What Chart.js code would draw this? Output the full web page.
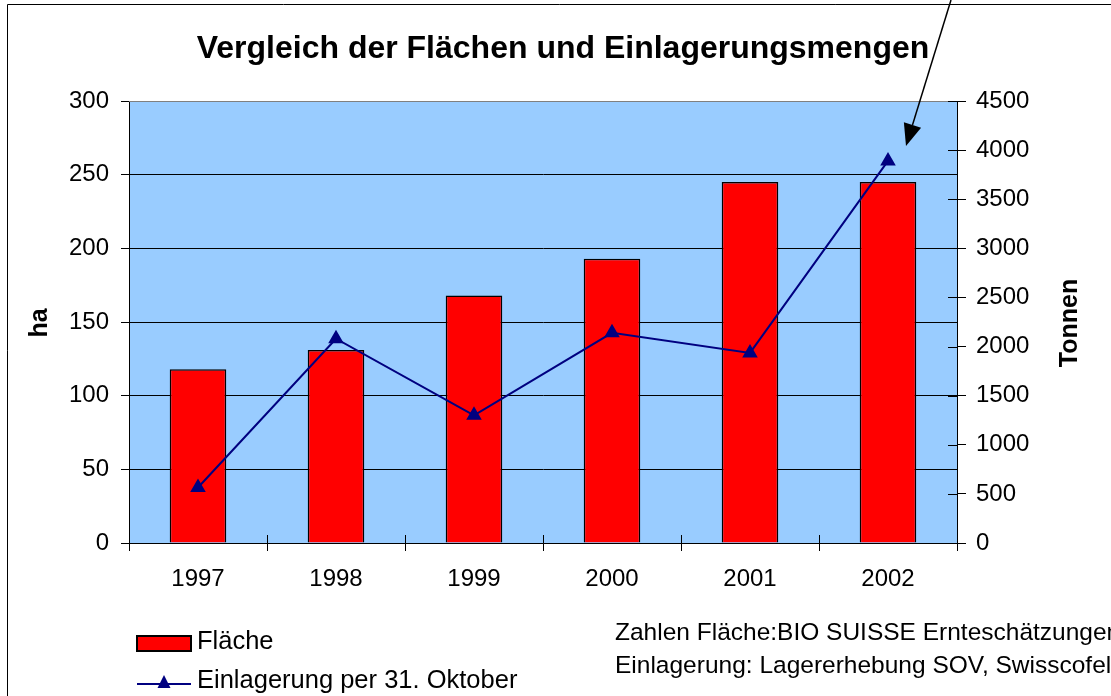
<!DOCTYPE html>
<html><head><meta charset="utf-8">
<script src="https://cdn.jsdelivr.net/npm/chart.js@4.4.1/dist/chart.umd.min.js"></script>
<style>html,body{margin:0;padding:0;background:#fff}#wrap{width:1111px;height:696px;position:relative}</style>
</head><body><div id="wrap"><canvas id="c" width="1111" height="696"></canvas></div>
<script>
const categories = ['1997','1998','1999','2000','2001','2002'];
const flaeche = [118, 131, 168, 193, 245, 245];
const einlagerung = [565, 2080, 1300, 2140, 1935, 3890];
const leftTicks = [0, 50, 100, 150, 200, 250, 300];
const rightTicks = [0, 500, 1000, 1500, 2000, 2500, 3000, 3500, 4000, 4500];
const titleText = 'Vergleich der Flächen und Einlagerungsmengen';
const leftTitle = 'ha';
const rightTitle = 'Tonnen';
const seriesNames = ['Fläche', 'Einlagerung per 31. Oktober'];
const notes = ['Zahlen Fläche:BIO SUISSE Ernteschätzungen', 'Einlagerung: Lagererhebung SOV, Swisscofel'];

const FONT = '"Liberation Sans", Arial, sans-serif';
const NAVY = '#000080';

const deco = {
  id: 'deco',
  beforeDraw(chart) {
    const {ctx, chartArea: a} = chart;
    ctx.save();
    ctx.fillStyle = '#fff';
    ctx.fillRect(0, 0, chart.width, chart.height);
    ctx.fillStyle = '#99CCFF';
    ctx.fillRect(a.left, a.top, a.right - a.left, a.bottom - a.top);
    ctx.restore();
  },
  afterDatasetsDraw(chart) {
    const {ctx, chartArea: a, scales} = chart;
    ctx.save();
    ctx.strokeStyle = '#808080';
    ctx.lineWidth = 1;
    ctx.beginPath(); ctx.moveTo(a.left, a.top + 0.5); ctx.lineTo(a.right, a.top + 0.5); ctx.stroke();
    ctx.strokeStyle = '#000';
    const yr = scales.y1;
    yr.ticks.forEach((t, i) => {
      const py = Math.round(yr.getPixelForTick(i)) + 0.5;
      ctx.beginPath(); ctx.moveTo(a.right - 9, py); ctx.lineTo(a.right, py); ctx.stroke();
    });
    const xs = scales.x;
    for (let i = 0; i <= categories.length; i++) {
      const px = Math.round(xs.getPixelForValue(i - 0.5)) + 0.5;
      ctx.beginPath(); ctx.moveTo(px, a.bottom - 8); ctx.lineTo(px, a.bottom); ctx.stroke();
    }
    ctx.restore();
  },
  afterDraw(chart) {
    const {ctx} = chart;
    ctx.save();
    ctx.strokeStyle = '#000';
    ctx.lineWidth = 1;
    ctx.beginPath(); ctx.moveTo(7.5, 700); ctx.lineTo(7.5, 4.5); ctx.lineTo(1120, 4.5); ctx.stroke();
    ctx.fillStyle = '#000';
    ctx.font = 'bold 32px ' + FONT;
    ctx.textAlign = 'center'; ctx.textBaseline = 'middle';
    ctx.fillText(titleText, 563, 49);
    ctx.font = 'bold 25px ' + FONT;
    ctx.save(); ctx.translate(40, 323); ctx.rotate(-Math.PI / 2); ctx.fillText(leftTitle, 0, 0); ctx.restore();
    ctx.save(); ctx.translate(1070, 323); ctx.rotate(-Math.PI / 2); ctx.fillText(rightTitle, 0, 0); ctx.restore();
    // legend
    ctx.textAlign = 'left';
    ctx.font = '25.5px ' + FONT;
    ctx.fillStyle = '#FF0000';
    ctx.fillRect(137, 636, 54, 15);
    ctx.strokeStyle = '#000'; ctx.lineWidth = 2;
    ctx.strokeRect(137, 636, 54, 15);
    ctx.fillStyle = '#000';
    ctx.fillText(seriesNames[0], 197, 642);
    ctx.strokeStyle = NAVY; ctx.lineWidth = 2;
    ctx.beginPath(); ctx.moveTo(137, 684); ctx.lineTo(191, 684); ctx.stroke();
    ctx.fillStyle = NAVY;
    ctx.beginPath(); ctx.moveTo(164, 675); ctx.lineTo(170.5, 688); ctx.lineTo(157.5, 688); ctx.closePath(); ctx.fill();
    ctx.fillStyle = '#000';
    ctx.fillText(seriesNames[1], 197, 681);
    // notes
    ctx.font = '24.5px ' + FONT;
    ctx.fillText(notes[0], 615, 633);
    ctx.fillText(notes[1], 615, 666);
    // arrow
    ctx.strokeStyle = '#000'; ctx.lineWidth = 1.5;
    const x0 = 951, y0 = 0, x1 = 906, y1 = 146;
    const ang = Math.atan2(y1 - y0, x1 - x0);
    const L = 22, W = 9;
    const bx = x1 - L * Math.cos(ang), by = y1 - L * Math.sin(ang);
    ctx.beginPath(); ctx.moveTo(x0, y0); ctx.lineTo(bx, by); ctx.stroke();
    ctx.fillStyle = '#000';
    ctx.beginPath();
    ctx.moveTo(x1, y1);
    ctx.lineTo(bx + W * Math.sin(ang), by - W * Math.cos(ang));
    ctx.lineTo(bx - W * Math.sin(ang), by + W * Math.cos(ang));
    ctx.closePath(); ctx.fill();
    ctx.restore();
  }
};

new Chart(document.getElementById('c'), {
  data: {
    labels: categories,
    datasets: [
      {
        type: 'line', label: seriesNames[1], data: einlagerung, yAxisID: 'y1',
        borderColor: NAVY, backgroundColor: NAVY, borderWidth: 2,
        pointStyle: 'triangle', pointRadius: 7, pointHoverRadius: 7, tension: 0, order: 1
      },
      {
        type: 'bar', label: seriesNames[0], data: flaeche, yAxisID: 'y',
        backgroundColor: '#FF0000', borderColor: '#000', borderWidth: 1.5,
        categoryPercentage: 1, barPercentage: 0.41, order: 2
      }
    ]
  },
  options: {
    responsive: false, animation: false, devicePixelRatio: 1,
    layout: { padding: { top: 101, left: 0, right: 0, bottom: 0 } },
    plugins: { legend: { display: false }, title: { display: false }, tooltip: { enabled: false } },
    scales: {
      x: {
        offset: true,
        grid: { offset: true, drawOnChartArea: false, drawTicks: true, tickLength: 8, color: '#000', tickColor: '#000' },
        border: { color: '#000', width: 1 },
        ticks: { color: '#000', font: { family: FONT, size: 24 }, padding: 14, maxRotation: 0 },
        afterFit(s) { s.height = 153; }
      },
      y: {
        position: 'left', min: 0, max: 300,
        afterBuildTicks(s) { s.ticks = leftTicks.map(v => ({ value: v })); },
        grid: { color: '#000', tickColor: '#000', tickLength: 8, lineWidth: 1 },
        border: { color: '#000', width: 1 },
        ticks: { color: '#000', font: { family: FONT, size: 24 }, padding: 12, callback: v => String(v) },
        afterFit(s) { s.width = 129; }
      },
      y1: {
        position: 'right', min: 0, max: 4500,
        afterBuildTicks(s) { s.ticks = rightTicks.map(v => ({ value: v })); },
        grid: { drawOnChartArea: false, tickColor: '#000', tickLength: 9 },
        border: { color: '#000', width: 1 },
        ticks: { color: '#000', font: { family: FONT, size: 24 }, padding: 10, callback: v => String(v) },
        afterFit(s) { s.width = 154; }
      }
    }
  },
  plugins: [deco]
});
</script>
</body></html>
